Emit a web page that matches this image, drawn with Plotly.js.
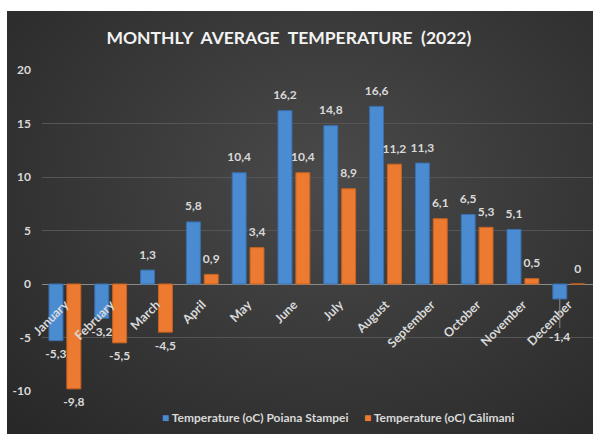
<!DOCTYPE html>
<html>
<head>
<meta charset="utf-8">
<script src="https://cdn.plot.ly/plotly-3.0.1.min.js"></script>
<style>
  html, body { margin: 0; padding: 0; background: #ffffff; width: 593px; height: 434px; overflow: hidden; }
  #chart {
    position: absolute; left: 7px; top: 11px; width: 586px; height: 423px;
    background: radial-gradient(ellipse at 55% 40%, #4a4a4a 0%, #3a3a3a 45%, #272727 100%);
  }
</style>
</head>
<body>
<div id="chart"></div>
<script>
const months = ["January","February","March","April","May","June","July","August","September","October","November","December"];
const poianaStampei = [-5.3, -3.2, 1.3, 5.8, 10.4, 16.2, 14.8, 16.6, 11.3, 6.5, 5.1, -1.4];
const calimani = [-9.8, -5.5, -4.5, 0.9, 3.4, 10.4, 8.9, 11.2, 6.1, 5.3, 0.5, 0];
const seriesNames = ["Temperature (oC) Poiana Stampei", "Temperature (oC) Călimani"];
const yTicks = [-10, -5, 0, 5, 10, 15, 20];

const FONT = "Lato, 'Open Sans', sans-serif";
const colors = ['#4a8bd2', '#ec7a30'];
const lineColors = ['#3a70ad', '#c8631f'];
const fmt = v => String(v).replace('.', ',');
const labelFont = { family: FONT, size: 12, color: '#d9d9d9', weight: 'bold' };

// geometry (layout settings)
const W = 586, H = 423;
const M = { l: 35, r: 0, t: 59, b: 43 };
const xRange = [-0.5, 11.53];
const BARGAP = 0.22;
const catPx = (W - M.l - M.r) / (xRange[1] - xRange[0]);
const groupOffsetPx = (1 - BARGAP) / 4 * catPx;

// label moved with a leader line (as in the original): series 0, last month
const leader = { series: 0, index: months.length - 1 };

const series = [poianaStampei, calimani];
const traces = [];
series.forEach((vals, i) => {
  traces.push({
    type: 'bar', name: seriesNames[i], x: months, y: vals,
    hoverinfo: 'none', showlegend: false,
    marker: { color: colors[i], line: { color: lineColors[i], width: 1 } }
  });
});
series.forEach((vals, i) => {
  traces.push({
    type: 'scatter', mode: 'markers+text', x: months, y: vals,
    text: vals.map((v, j) => (i === leader.series && j === leader.index) ? '' : fmt(v)),
    textposition: vals.map(v => v >= 0 ? 'top center' : 'bottom center'),
    textfont: labelFont, cliponaxis: false, hoverinfo: 'none', showlegend: false,
    marker: { size: 12, opacity: 0 }
  });
});

const plotH = H - M.t - M.b;
const legendY = -(407 - (H - M.b)) / plotH;
const plotW = W - M.l - M.r;

const yMin = -10, yMax = 20;
const layout = {
  width: W, height: H,
  paper_bgcolor: 'rgba(0,0,0,0)', plot_bgcolor: 'rgba(0,0,0,0)',
  margin: { l: M.l, r: M.r, t: M.t, b: M.b, pad: 0 },
  barmode: 'group', bargap: BARGAP, bargroupgap: 0.22,
  scattermode: 'group', scattergap: BARGAP,
  showlegend: false,
  title: {
    text: 'MONTHLY\u00a0 AVERAGE\u00a0 TEMPERATURE\u00a0 (2022)',
    font: { family: FONT, size: 17.5, color: '#f2f2f2', weight: 'bold' },
    xref: 'container', x: 0.481, xanchor: 'center',
    yref: 'container', y: 0.936, yanchor: 'middle'
  },
  xaxis: {
    type: 'category', range: xRange,
    anchor: 'free', position: (0 - yMin) / (yMax - yMin),
    showline: false, showgrid: false, zeroline: false, ticks: '',
    tickangle: -45, ticklabelstandoff: 10,
    tickfont: { family: FONT, size: 12.5, color: '#d9d9d9', weight: 'bold' }
  },
  yaxis: {
    range: [yMin, yMax], tickvals: yTicks, ticktext: yTicks.map(String),
    showgrid: true, gridcolor: '#555555', gridwidth: 1,
    zeroline: true, zerolinecolor: '#8a8a8a', zerolinewidth: 1,
    showline: false, ticks: '', ticklabelstandoff: 10,
    tickfont: { family: FONT, size: 12, color: '#d9d9d9', weight: 'bold' }
  },
  annotations: [
    {
      xref: 'paper', yref: 'paper', x: (153 - M.l) / plotW, y: legendY, xanchor: 'left', yanchor: 'middle',
      showarrow: false,
      text: '<span style="color:' + colors[0] + '">■</span> ' + seriesNames[0],
      font: { family: FONT, size: 12, color: '#d9d9d9', weight: 'bold' }
    },
    {
      xref: 'paper', yref: 'paper', x: (355 - M.l) / plotW, y: legendY, xanchor: 'left', yanchor: 'middle',
      showarrow: false,
      text: '<span style="color:' + colors[1] + '">■</span> ' + seriesNames[1],
      font: { family: FONT, size: 12, color: '#d9d9d9', weight: 'bold' }
    },
    {
      xref: 'x', yref: 'y', x: months[leader.index], y: series[leader.series][leader.index],
      xshift: leader.series === 0 ? -groupOffsetPx : groupOffsetPx,
      text: fmt(series[leader.series][leader.index]),
      showarrow: true, arrowhead: 0, arrowwidth: 1, arrowcolor: '#8c8c8c',
      ax: 0, ay: 38, standoff: 0, startstandoff: 0,
      font: labelFont
    }
  ],
  font: { family: FONT }
};

Plotly.newPlot('chart', traces, layout, { displayModeBar: false, staticPlot: true });
</script>
</body>
</html>
